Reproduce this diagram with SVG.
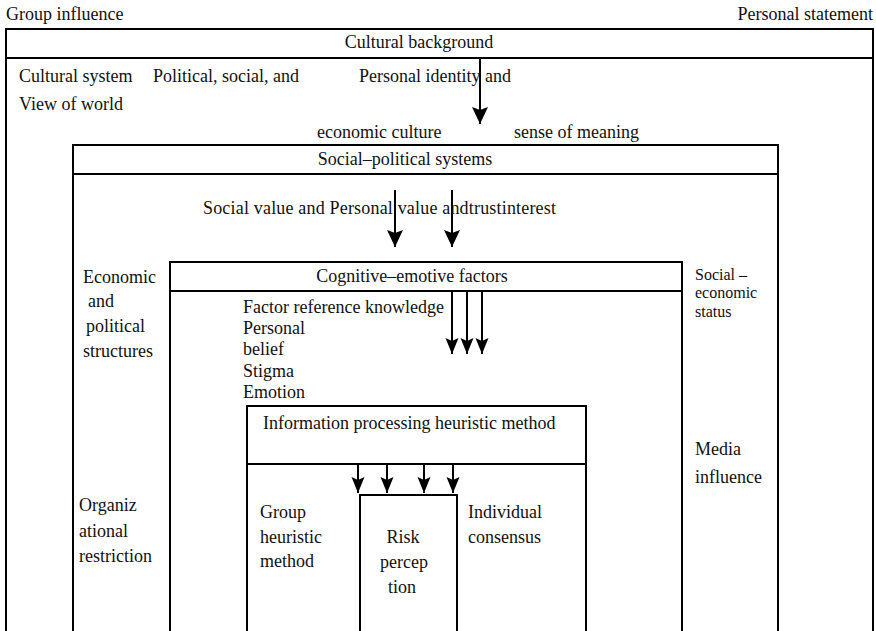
<svg xmlns="http://www.w3.org/2000/svg" width="876" height="631" viewBox="0 0 876 631" font-family="'Liberation Serif', 'DejaVu Serif', serif">
  <style>
    .frame { fill: none; stroke: #000; stroke-width: 2; }
    .rule { stroke: #000; stroke-width: 2; }
    .wire { stroke: #000; stroke-width: 2; fill: none; }
    text { font-family: "Liberation Serif", "DejaVu Serif", serif; font-size: 18px; fill: #111; }
    .small { font-size: 16px; }
  </style>
  <defs>
    <!-- filled arrowhead, tip at the line end -->
    <marker id="head" viewBox="-18 -9 19 18" refX="0" refY="0" markerWidth="19" markerHeight="18" markerUnits="userSpaceOnUse" orient="auto">
      <path d="M0,0 L-17,-8 L-14,0 L-17,8 Z" fill="#000"/>
    </marker>
    <marker id="headS" viewBox="-17 -7 18 14" refX="0" refY="0" markerWidth="18" markerHeight="14" markerUnits="userSpaceOnUse" orient="auto">
      <path d="M0,0 L-16,-6.5 L-13,0 L-16,6.5 Z" fill="#000"/>
    </marker>
  </defs>

  <!-- page captions -->
  <text x="6" y="20">Group influence</text>
  <text x="873" y="20" text-anchor="end">Personal statement</text>

  <!-- outermost layer -->
  <g id="cultural-background">
    <path class="frame" d="M6,631 V29 H873 V631"/>
    <line class="rule" x1="6" y1="58" x2="873" y2="58"/>
    <text x="419" y="48" text-anchor="middle">Cultural background</text>
    <text x="19" y="82">Cultural system</text>
    <text x="153" y="82">Political, social, and</text>
    <text x="359" y="82">Personal identity and</text>
    <text x="19" y="110">View of world</text>
    <text x="317" y="138">economic culture</text>
    <text x="514" y="138">sense of meaning</text>
  </g>

  <!-- second layer -->
  <g id="social-political-systems">
    <path class="frame" d="M73,631 V145 H778 V631"/>
    <line class="rule" x1="73" y1="174" x2="778" y2="174"/>
    <text x="405" y="165" text-anchor="middle">Social–political systems</text>
    <text x="203" y="214" textLength="353">Social value and Personal value andtrustinterest</text>
    <text x="83" y="283">Economic</text>
    <text x="88" y="307">and</text>
    <text x="86" y="332">political</text>
    <text x="83" y="357">structures</text>
    <text x="79" y="511">Organiz</text>
    <text x="79" y="537">ational</text>
    <text x="79" y="562">restriction</text>
    <text class="small" x="695" y="279.5">Social –</text>
    <text class="small" x="695" y="298">economic</text>
    <text class="small" x="695" y="316.5">status</text>
    <text x="695" y="455">Media</text>
    <text x="695" y="483">influence</text>
  </g>

  <!-- third layer -->
  <g id="cognitive-emotive-factors">
    <path class="frame" d="M170,631 V262 H682 V631"/>
    <line class="rule" x1="170" y1="291" x2="682" y2="291"/>
    <text x="412" y="282" text-anchor="middle">Cognitive–emotive factors</text>
    <text x="243" y="313">Factor reference knowledge</text>
    <text x="243" y="334">Personal</text>
    <text x="243" y="355">belief</text>
    <text x="243" y="377">Stigma</text>
    <text x="243" y="398">Emotion</text>
  </g>

  <!-- fourth layer -->
  <g id="information-processing">
    <path class="frame" d="M247,631 V406 H586 V631"/>
    <line class="rule" x1="247" y1="464" x2="586" y2="464"/>
    <text x="263" y="429">Information processing heuristic method</text>
    <text x="260" y="518">Group</text>
    <text x="260" y="543">heuristic</text>
    <text x="260" y="567">method</text>
    <text x="468" y="518">Individual</text>
    <text x="468" y="543">consensus</text>
  </g>

  <!-- core -->
  <g id="risk-perception">
    <path class="frame" d="M360,631 V495 H457 V631"/>
    <text x="403" y="543" text-anchor="middle">Risk</text>
    <text x="404" y="568" text-anchor="middle">percep</text>
    <text x="402" y="593" text-anchor="middle">tion</text>
  </g>

  <!-- influence arrows -->
  <g id="connectors">
    <line class="wire" x1="480" y1="58" x2="480" y2="124" marker-end="url(#head)"/>
    <line class="wire" x1="395" y1="190" x2="395" y2="247" marker-end="url(#head)"/>
    <line class="wire" x1="452" y1="190" x2="452" y2="247" marker-end="url(#head)"/>
    <line class="wire" x1="452" y1="291" x2="452" y2="354" marker-end="url(#headS)"/>
    <line class="wire" x1="467" y1="291" x2="467" y2="354" marker-end="url(#headS)"/>
    <line class="wire" x1="482" y1="291" x2="482" y2="354" marker-end="url(#headS)"/>
    <line class="wire" x1="358" y1="464" x2="358" y2="493" marker-end="url(#headS)"/>
    <line class="wire" x1="387" y1="464" x2="387" y2="493" marker-end="url(#headS)"/>
    <line class="wire" x1="424" y1="464" x2="424" y2="493" marker-end="url(#headS)"/>
    <line class="wire" x1="453" y1="464" x2="453" y2="493" marker-end="url(#headS)"/>
  </g>
</svg>
